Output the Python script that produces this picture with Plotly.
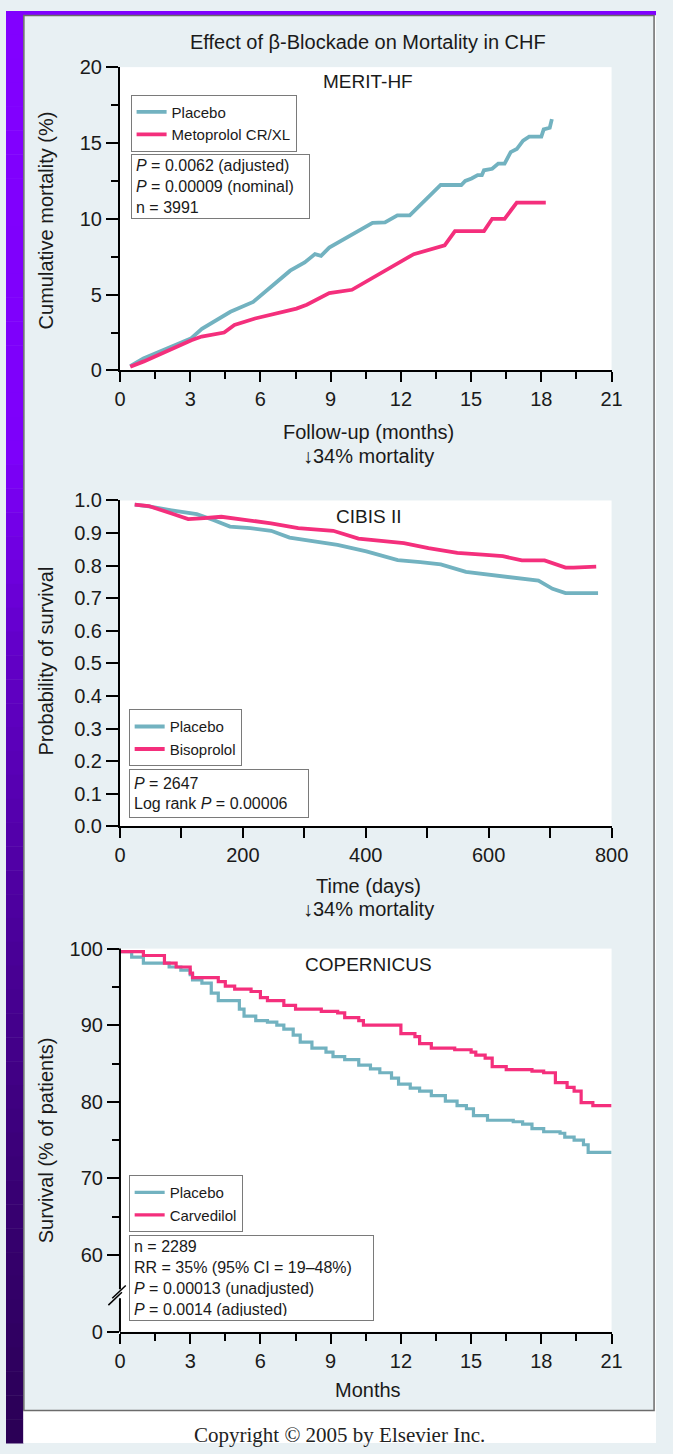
#!/usr/bin/env python3
"""
Effect of beta-blockade on mortality in CHF - three trial panels
"""
import plotly.graph_objects as go

W, H = 673, 1454

# MERIT-HF: cumulative mortality (%) vs follow-up months
merit_placebo_x = [0.44, 1.0, 3.05, 3.5, 4.72, 5.69, 7.27, 7.89, 8.33, 8.59, 8.94, 10.79, 11.32,
                   11.85, 12.38, 13.7, 14.58, 14.75, 15.02, 15.28, 15.46, 15.55, 15.9, 16.16,
                   16.43, 16.69, 16.95, 17.22, 17.48, 18.0, 18.1, 18.36, 18.45]
merit_placebo_y = [0.28, 0.8, 2.13, 2.75, 3.87, 4.52, 6.58, 7.12, 7.67, 7.56, 8.1, 9.73, 9.77,
                   10.23, 10.23, 12.23, 12.23, 12.5, 12.66, 12.88, 12.88, 13.2, 13.3, 13.64,
                   13.64, 14.4, 14.6, 15.16, 15.42, 15.42, 15.9, 16.0, 16.57]
merit_meto_x = [0.44, 1.02, 3.05, 3.49, 4.45, 4.89, 5.77, 7.54, 7.98, 8.94, 9.91, 12.55, 13.87,
                14.31, 15.55, 15.9, 16.43, 16.95, 18.19]
merit_meto_y = [0.24, 0.6, 2.0, 2.24, 2.5, 3.0, 3.43, 4.08, 4.34, 5.1, 5.32, 7.67, 8.25,
                9.19, 9.19, 10.0, 10.0, 11.07, 11.07]

# CIBIS II: probability of survival vs days
cibis_placebo_x = [24, 47, 84, 125, 152, 179, 212, 246, 276, 300, 354, 401, 452, 489, 522,
                   563, 600, 637, 681, 704, 725, 778]
cibis_placebo_y = [0.987, 0.982, 0.970, 0.958, 0.940, 0.920, 0.915, 0.907, 0.886, 0.879, 0.864,
                   0.844, 0.817, 0.811, 0.804, 0.781, 0.772, 0.764, 0.754, 0.729, 0.716, 0.716]
cibis_biso_x = [24, 47, 84, 111, 131, 165, 206, 246, 290, 320, 347, 388, 408, 462, 502, 549,
                590, 623, 654, 691, 725, 738, 775]
cibis_biso_y = [0.987, 0.983, 0.960, 0.943, 0.945, 0.950, 0.940, 0.930, 0.915, 0.910, 0.907,
                0.883, 0.879, 0.869, 0.854, 0.839, 0.834, 0.829, 0.816, 0.816, 0.794, 0.794, 0.797]

# COPERNICUS: survival (% of patients) vs months, step curves
cop_placebo_x = [0, 0.5, 1.0, 2.1, 2.6, 3.0, 3.1, 3.5, 3.9, 4.2, 5.1, 5.3, 5.8, 6.3, 6.7, 7.0,
                 7.4, 7.7, 8.2, 8.8, 9.1, 9.6, 10.2, 10.7, 11.1, 11.6, 11.9, 12.4, 12.8, 13.3,
                 13.9, 14.4, 14.8, 15.1, 15.7, 16.8, 17.2, 17.6, 18.1, 18.8, 19.0, 19.4, 19.8,
                 20.0, 21.0]
cop_placebo_y = [99.6, 98.9, 98.1, 97.6, 97.2, 96.6, 95.9, 95.5, 94.2, 93.2, 92.1, 91.2, 90.6,
                 90.4, 90.0, 89.5, 88.7, 87.8, 87.0, 86.5, 85.9, 85.5, 84.8, 84.3, 83.8, 83.1,
                 82.3, 81.8, 81.4, 80.8, 80.1, 79.5, 79.1, 78.2, 77.6, 77.4, 77.1, 76.5, 76.1,
                 75.9, 75.4, 75.0, 74.4, 73.4, 73.4]
cop_carv_x = [0, 1.0, 1.9, 2.4, 3.0, 3.1, 4.2, 4.5, 4.9, 5.6, 6.0, 6.3, 7.0, 7.5, 8.6, 9.3, 9.6,
              10.2, 10.4, 12.0, 12.6, 12.8, 13.3, 14.3, 15.0, 15.2, 15.6, 15.9, 16.5, 17.6,
              18.1, 18.6, 19.1, 19.4, 19.7, 20.2, 21.0]
cop_carv_y = [99.6, 99.1, 98.1, 97.6, 96.8, 96.2, 95.7, 95.1, 94.7, 94.4, 93.6, 93.2, 92.6,
              92.1, 91.8, 91.6, 91.0, 90.6, 90.0, 88.9, 88.5, 87.6, 87.0, 86.8, 86.5, 86.1,
              85.7, 84.6, 84.2, 84.0, 83.8, 82.5, 81.9, 81.4, 79.9, 79.5, 79.5]

cop_ytick_vals = [50, 60, 70, 80, 90, 100]
cop_ytick_text = ["0", "60", "70", "80", "90", "100"]

TEAL = "#72b2c0"
PINK = "#f42f7c"
PANEL = "#e8f0f3"
FONT = "Liberation Sans, Arial, sans-serif"


def px(x):
    return x / W


def py(y):
    return 1 - y / H


fig = go.Figure()

fig.add_trace(go.Scatter(x=merit_placebo_x, y=merit_placebo_y, mode="lines", name="Placebo",
                         line=dict(color=TEAL, width=3.8), xaxis="x", yaxis="y", legend="legend"))
fig.add_trace(go.Scatter(x=merit_meto_x, y=merit_meto_y, mode="lines", name="Metoprolol CR/XL",
                         line=dict(color=PINK, width=3.8), xaxis="x", yaxis="y", legend="legend"))
fig.add_trace(go.Scatter(x=cibis_placebo_x, y=cibis_placebo_y, mode="lines", name="Placebo",
                         line=dict(color=TEAL, width=3.8), xaxis="x2", yaxis="y2", legend="legend2"))
fig.add_trace(go.Scatter(x=cibis_biso_x, y=cibis_biso_y, mode="lines", name="Bisoprolol",
                         line=dict(color=PINK, width=3.8), xaxis="x2", yaxis="y2", legend="legend2"))
fig.add_trace(go.Scatter(x=cop_placebo_x, y=cop_placebo_y, mode="lines", name="Placebo",
                         line=dict(color=TEAL, width=3.2, shape="hv"), xaxis="x3", yaxis="y3",
                         legend="legend3"))
fig.add_trace(go.Scatter(x=cop_carv_x, y=cop_carv_y, mode="lines", name="Carvedilol",
                         line=dict(color=PINK, width=3.2, shape="hv"), xaxis="x3", yaxis="y3",
                         legend="legend3"))

axis_common = dict(showgrid=False, zeroline=False, showline=True, linecolor="black", linewidth=2,
                   ticks="outside", tickcolor="black", tickwidth=1.5,
                   tickfont=dict(size=20, color="#1a1a1a"))

xdom = [px(118), px(627)]
fig.update_layout(
    xaxis=dict(axis_common, domain=xdom, range=[0, 21], dtick=3, ticklen=10, anchor="y",
               minor=dict(dtick=1.5, ticks="outside", ticklen=7, tickcolor="black")),
    yaxis=dict(axis_common, domain=[py(365), py(57)], range=[0, 20], dtick=5, ticklen=12, anchor="x",
               minor=dict(dtick=2.5, ticks="outside", ticklen=7, tickcolor="black")),
    xaxis2=dict(axis_common, domain=xdom, range=[0, 800], dtick=200, ticklen=10, anchor="y2",
                minor=dict(dtick=100, ticks="outside", ticklen=10, tickcolor="black")),
    yaxis2=dict(axis_common, domain=[py(828), py(497)], range=[0, 1.0], dtick=0.1, ticklen=12,
                tickformat=".1f", anchor="x2"),
    xaxis3=dict(axis_common, domain=xdom, range=[0, 21], dtick=3, ticklen=10, anchor="y3",
                minor=dict(dtick=1.5, ticks="outside", ticklen=7, tickcolor="black")),
    yaxis3=dict(axis_common, domain=[py(1341), py(952)], range=[50, 100], showline=False,
                tickvals=cop_ytick_vals, ticktext=cop_ytick_text, ticklen=12, anchor="x3",
                minor=dict(tickvals=[65, 75, 85, 95], ticks="outside", ticklen=7, tickcolor="black")),
)

leg_common = dict(xanchor="left", yanchor="top", bgcolor="white", bordercolor="#7a7a7a",
                  borderwidth=1, font=dict(size=15, color="#1a1a1a"), itemwidth=30,
                  tracegroupgap=0)
fig.update_layout(
    legend=dict(leg_common, x=px(129), y=py(85)),
    legend2=dict(leg_common, x=px(127), y=py(709)),
    legend3=dict(leg_common, x=px(127), y=py(1182)),
)

# background decoration: purple strip, panel border, white footer
shapes = []
stops = [(0, (0x82, 0x00, 0xff)), (450, (0x7d, 0x00, 0xfa)), (650, (0x62, 0x00, 0xc8)),
         (950, (0x4a, 0x00, 0x98)), (1200, (0x38, 0x00, 0x73)), (1454, (0x2a, 0x00, 0x55))]


def grad(yv):
    for (y0, c0), (y1, c1) in zip(stops[:-1], stops[1:]):
        if y0 <= yv <= y1:
            t = (yv - y0) / (y1 - y0)
            return "rgb(%d,%d,%d)" % tuple(round(a + (b - a) * t) for a, b in zip(c0, c1))
    return "rgb(42,0,85)"


band = 1454 / 60
for i in range(60):
    y0 = i * band
    shapes.append(dict(type="rect", xref="paper", yref="paper", x0=0, x1=px(18),
                       y0=py(y0 + band + 0.5), y1=py(y0), fillcolor=grad(y0 + band / 2),
                       line=dict(width=0), layer="below"))
shapes.append(dict(type="rect", xref="paper", yref="paper", x0=0, x1=1, y0=py(4.5), y1=1,
                   fillcolor="#8000ff", line=dict(width=0), layer="below"))
shapes.append(dict(type="rect", xref="paper", yref="paper", x0=px(18), x1=1, y0=0, y1=py(1421),
                   fillcolor="white", line=dict(width=0), layer="below"))
shapes.append(dict(type="rect", xref="paper", yref="paper", x0=px(671), x1=1, y0=py(1421), y1=py(4.5),
                   fillcolor="white", line=dict(width=0), layer="below"))
shapes.append(dict(type="rect", xref="paper", yref="paper", x0=px(18.5), x1=px(671), y0=py(1421),
                   y1=py(4.5), line=dict(color="#6b6b6b", width=1.5)))

# COPERNICUS broken y axis
for (ya, yb) in [(1341, 1307), (1298, 952)]:
    shapes.append(dict(type="line", xref="paper", yref="paper", x0=px(118), x1=px(118),
                       y0=py(ya), y1=py(yb), line=dict(color="black", width=2)))
for (xa, ya, xb, yb) in [(110, 1307, 124, 1294), (106, 1314, 120, 1301)]:
    shapes.append(dict(type="line", xref="paper", yref="paper", x0=px(xa), x1=px(xb),
                       y0=py(ya), y1=py(yb), line=dict(color="black", width=1.5)))

fig.update_layout(shapes=shapes)

annotations = []


def label(text, x, y, size=20, angle=0, family=FONT, color="#1a1a1a"):
    annotations.append(dict(text=text, x=px(x), y=py(y), xref="paper", yref="paper",
                            showarrow=False, xanchor="center", yanchor="middle", textangle=angle,
                            font=dict(size=size, family=family, color=color)))


label("Effect of β-Blockade on Mortality in CHF", 375, 31)
label("MERIT-HF", 375, 72, size=19)
label("CIBIS II", 375, 513, size=19)
label("COPERNICUS", 375, 968, size=19)
label("Follow-up (months)", 375, 427)
label("↓34% mortality", 375, 452)
label("Time (days)", 375, 888)
label("↓34% mortality", 375, 912)
label("Months", 375, 1400)
label("Cumulative mortality (%)", 41, 213, angle=-90)
label("Probability of survival", 41, 660, angle=-90)
label("Survival (% of patients)", 41, 1147, angle=-90)
label("Copyright © 2005 by Elsevier Inc.", 345, 1446, size=21,
      family="Liberation Serif, Times New Roman, serif", color="#222222")


def statbox(lines, x0, y0, x1, y1):
    annotations.append(dict(text="<br>".join(lines), x=px(x0), y=py(y0), xref="paper", yref="paper",
                            showarrow=False, xanchor="left", yanchor="top", align="left",
                            valign="middle", width=x1 - x0 - 10, height=y1 - y0 - 10,
                            bgcolor="white", bordercolor="#7a7a7a", borderwidth=1, borderpad=4,
                            font=dict(size=16, family=FONT, color="#1a1a1a")))


statbox(["<i>P</i> = 0.0062 (adjusted)", "<i>P</i> = 0.00009 (nominal)", "n = 3991"],
        129, 145, 308, 210)
statbox(["<i>P</i> = 2647", "Log rank <i>P</i> = 0.00006"], 127, 770, 307, 819)
statbox(["n = 2289", "RR = 35% (95% CI = 19–48%)", "<i>P</i> = 0.00013 (unadjusted)",
         "<i>P</i> = 0.0014 (adjusted)"], 127, 1243, 372, 1329)

fig.update_layout(
    annotations=annotations,
    width=W, height=H,
    margin=dict(l=0, r=0, t=0, b=0),
    paper_bgcolor=PANEL,
    plot_bgcolor="white",
    font=dict(family=FONT, color="#1a1a1a"),
    showlegend=True,
)

# pin the plot to the window corner so no page margin shifts it
fig.write_html("out.html", config={"displayModeBar": False},
               post_script="document.documentElement.style.margin='0';"
                           "document.body.style.margin='0';document.body.style.padding='0';"
                           "document.documentElement.style.overflow='hidden';"
                           "var d=document.getElementById('{plot_id}');"
                           "d.style.position='fixed';d.style.left='0px';d.style.top='0px';")
